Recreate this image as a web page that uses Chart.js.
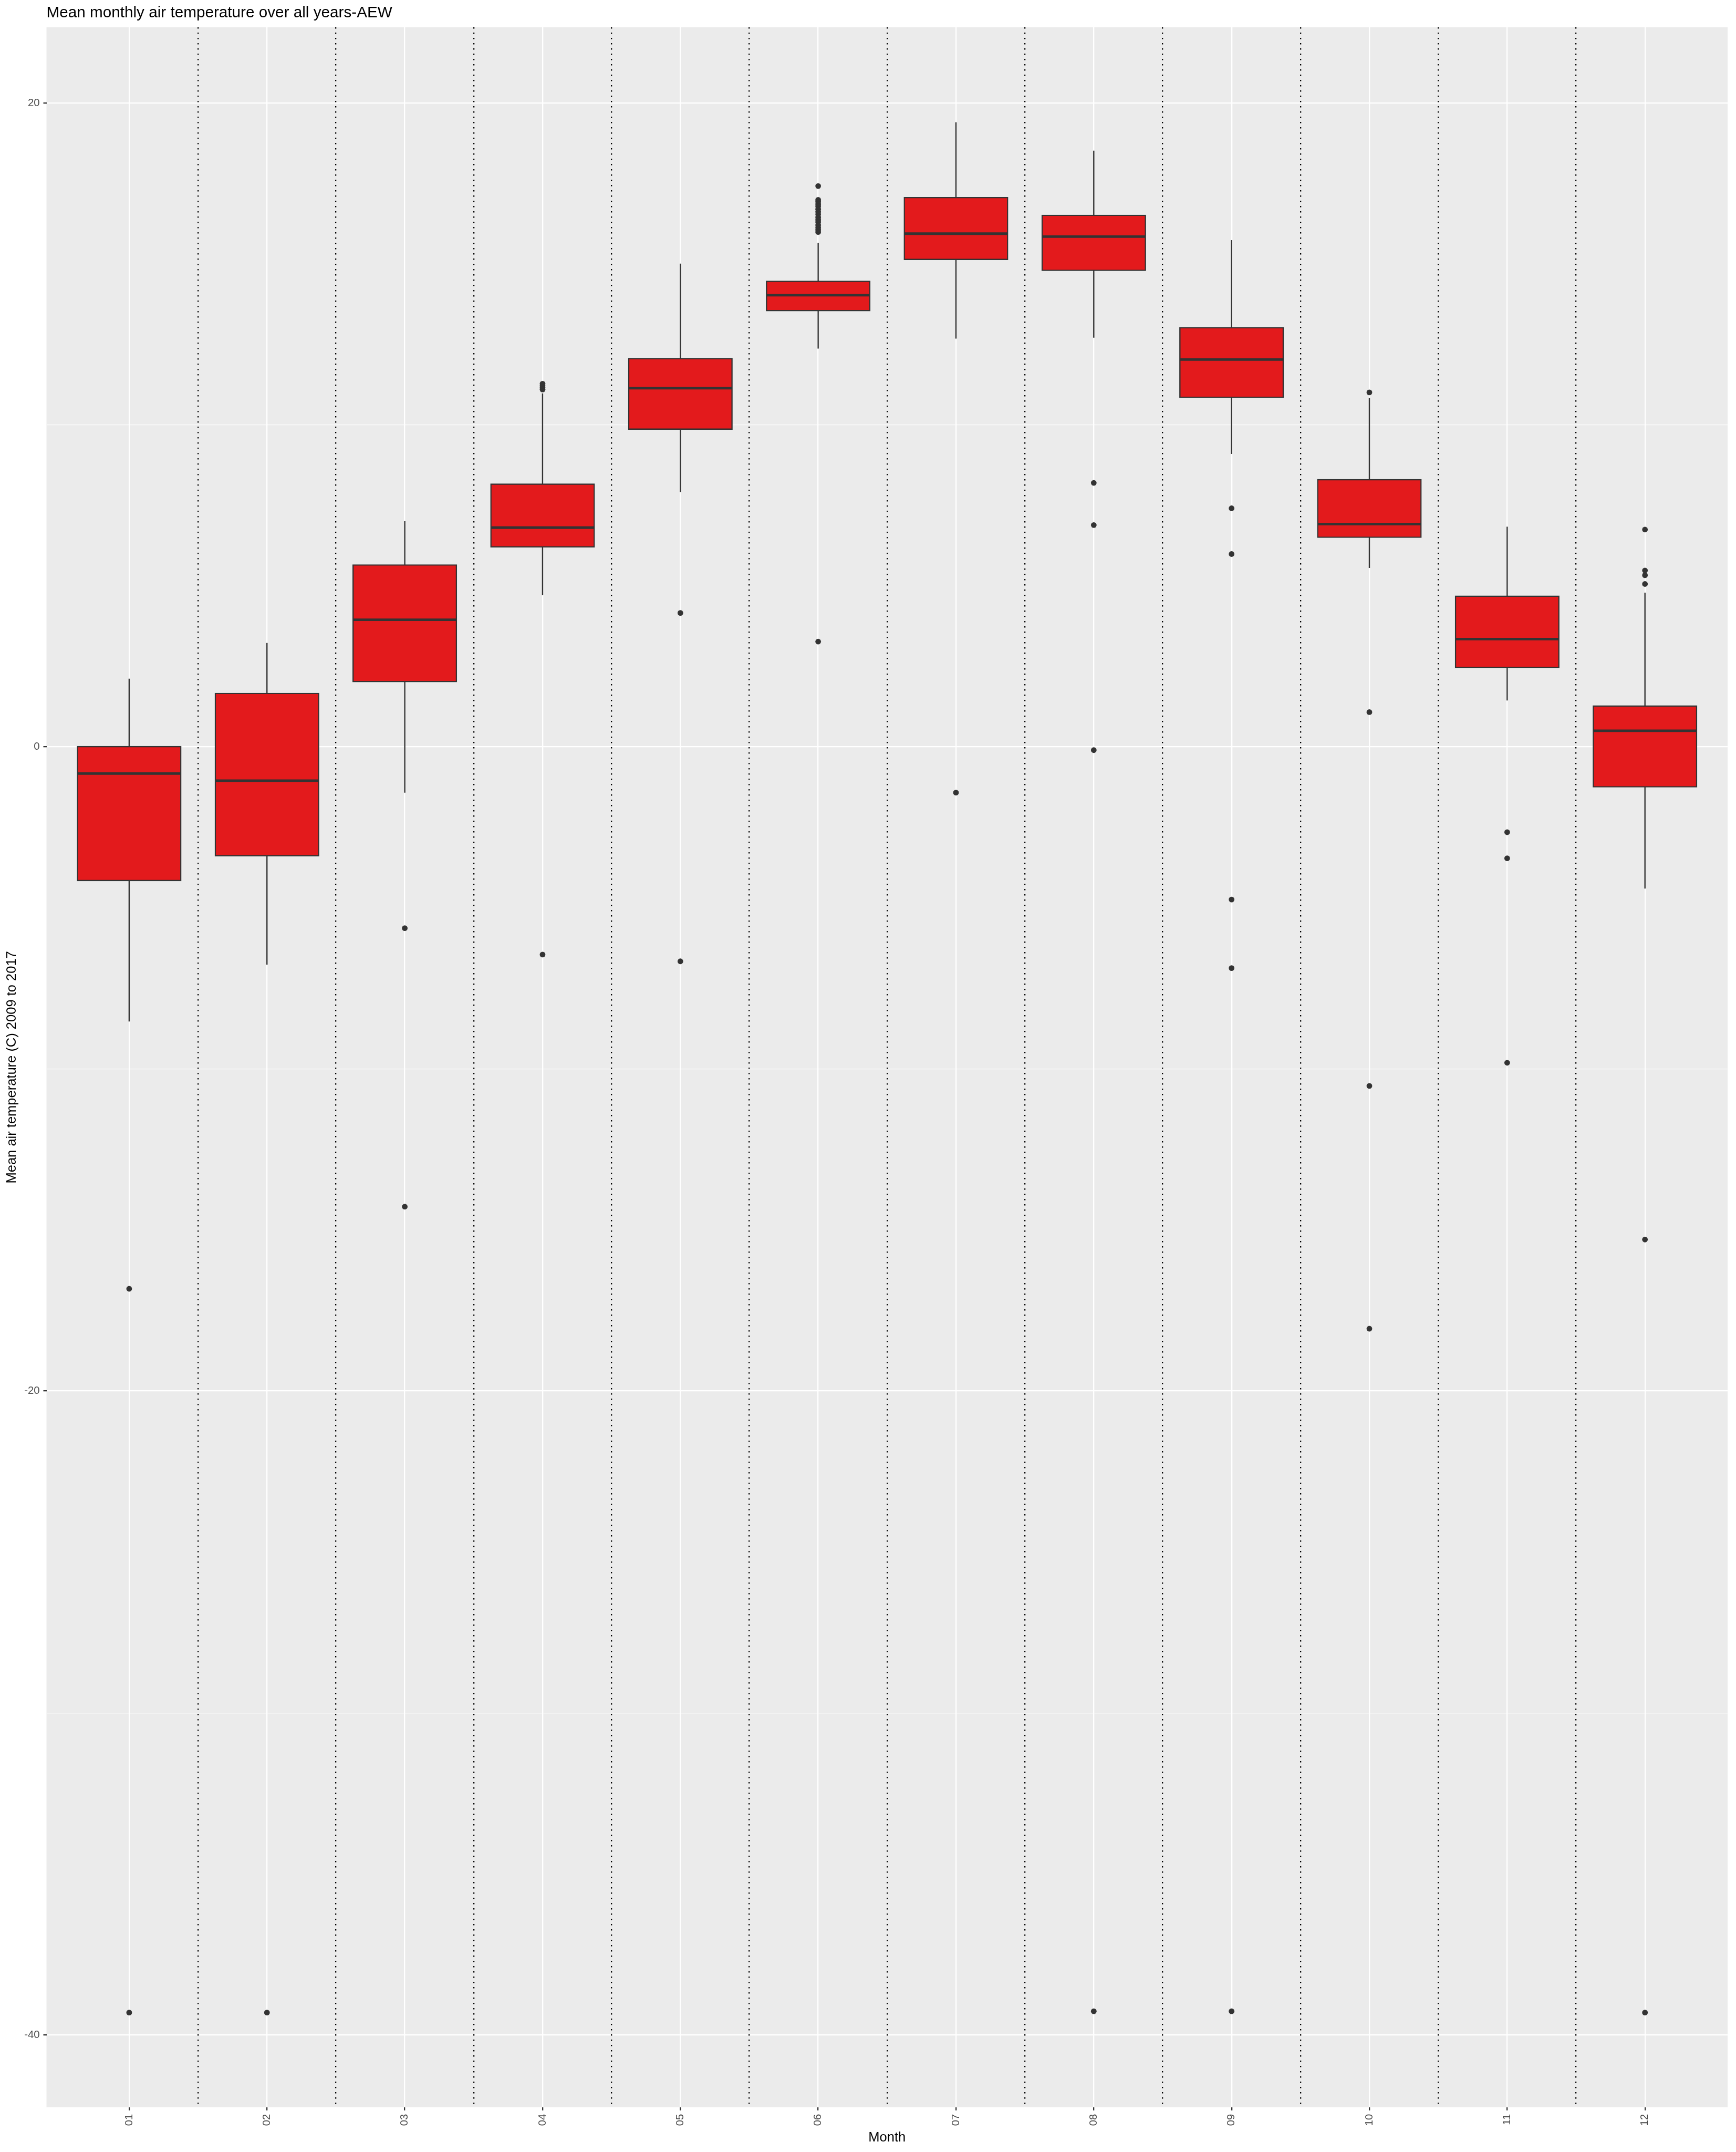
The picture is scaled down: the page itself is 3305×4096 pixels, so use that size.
<!DOCTYPE html>
<html>
<head>
<meta charset="utf-8">
<script src="https://cdn.jsdelivr.net/npm/chart.js@4.4.1/dist/chart.umd.min.js"></script>
<style>
html, body { margin: 0; padding: 0; background: #ffffff; }
canvas { display: block; }
</style>
</head>
<body>
<canvas id="c" width="3305" height="4096"></canvas>
<script>
// ---- data ----
const months = ['01', '02', '03', '04', '05', '06', '07', '08', '09', '10', '11', '12'];
const whiskerLow  = [-8.53, -6.76, -1.42, 4.71, 7.91, 12.37, 12.68, 12.71, 9.10, 5.56, 1.44, -4.40];
const q1          = [-4.15, -3.38, 2.03, 6.21, 9.87, 13.55, 15.14, 14.80, 10.86, 6.51, 2.47, -1.24];
const median      = [-0.83, -1.05, 3.95, 6.81, 11.14, 14.03, 15.94, 15.85, 12.03, 6.92, 3.35, 0.50];
const q3          = [0.01, 1.66, 5.65, 8.16, 12.06, 14.46, 17.06, 16.51, 13.02, 8.30, 4.68, 1.27];
const whiskerHigh = [2.12, 3.23, 7.01, 10.98, 15.01, 15.66, 19.40, 18.52, 15.74, 10.84, 6.84, 4.79];
const outliers = [
  [-16.83, -39.31],
  [-39.31],
  [-5.63, -14.28],
  [11.10, 11.16, 11.22, 11.28, -6.45],
  [4.16, -6.66],
  [17.42, 16.99, 16.93, 16.86, 16.79, 16.70, 16.62, 16.54, 16.45, 16.37, 16.30, 16.21, 16.13, 16.06, 15.99, 3.27],
  [-1.42],
  [8.20, 6.89, -0.10, -39.27],
  [7.41, 5.99, -4.74, -6.87, -39.27],
  [11.01, 1.08, -10.53, -18.07],
  [-2.65, -3.46, -9.81],
  [6.75, 5.48, 5.33, 5.06, -15.30, -39.31]
];
const yTicks = [-40, -30, -20, -10, 0, 10, 20];
const titleText = 'Mean monthly air temperature over all years-AEW';
const xTitle = 'Month';
const yTitle = 'Mean air temperature (C) 2009 to 2017';

// ---- style ----
const FONT = "'Liberation Sans', Arial, Helvetica, sans-serif";
Chart.defaults.font.family = FONT;

const panelBg = {
  id: 'panelBg',
  beforeDraw(chart) {
    const { ctx, chartArea: a } = chart;
    ctx.save();
    ctx.fillStyle = '#ffffff';
    ctx.fillRect(0, 0, chart.width, chart.height);
    ctx.fillStyle = '#EBEBEB';
    ctx.fillRect(a.left, a.top, a.right - a.left, a.bottom - a.top);
    ctx.restore();
  }
};

const isMajor = (c) => c && c.tick && Math.abs(c.tick.value % 20) < 1e-9;

new Chart(document.getElementById('c'), {
  type: 'bar',
  data: {
    datasets: [
      {
        type: 'line', label: 'outliers', order: 0,
        data: outliers.flatMap((vals, i) => vals.map(v => ({ x: i + 1, y: v }))),
        showLine: false, pointStyle: 'circle', pointRadius: 5.4,
        pointBackgroundColor: '#333333', pointBorderWidth: 0, clip: false
      },
      {
        type: 'line', label: 'median', order: 1,
        data: months.map((m, i) => ({ x: i + 1, y: median[i] })),
        showLine: false, pointStyle: 'line',
        pointRadius: (c) => {
          const xs = c.chart.scales.x;
          return xs.getPixelForValue(1.375) - xs.getPixelForValue(1);
        },
        borderColor: '#333333', pointBorderColor: '#333333', pointBorderWidth: 4.8, clip: false
      },
      {
        type: 'bar', label: 'box', order: 2,
        data: months.map((m, i) => ({ x: i + 1, y: [q1[i], q3[i]] })),
        backgroundColor: '#E31A1C', borderColor: '#333333', borderWidth: 2.4,
        borderSkipped: false, inflateAmount: 1.2,
        barPercentage: 0.75, categoryPercentage: 1, grouped: false
      },
      {
        type: 'bar', label: 'whisker', order: 3,
        data: months.map((m, i) => ({ x: i + 1, y: [whiskerLow[i], whiskerHigh[i]] })),
        backgroundColor: '#333333', borderWidth: 0, inflateAmount: 0,
        barThickness: 2.4, grouped: false
      }
    ]
  },
  options: {
    responsive: false,
    devicePixelRatio: 1,
    animation: false,
    events: [],
    layout: { padding: { left: 0, top: 0, bottom: 0, right: 15.9 }, autoPadding: false },
    plugins: {
      legend: { display: false },
      tooltip: { enabled: false },
      title: {
        display: true, text: titleText, align: 'start', fullSize: false,
        color: '#000000', font: { size: 29.7, weight: 'normal' },
        padding: { top: 7, bottom: 9.3 }
      }
    },
    scales: {
      y: {
        type: 'linear', position: 'left', min: -42.25, max: 22.35, beginAtZero: false,
        afterBuildTicks: (s) => { s.ticks = yTicks.map(v => ({ value: v })); },
        ticks: {
          callback: (v) => (Math.abs(v % 20) < 1e-9 ? String(v) : ''),
          color: '#4D4D4D', font: { size: 20.4 }, padding: 6.8
        },
        grid: {
          color: '#FFFFFF',
          lineWidth: (c) => (isMajor(c) ? 2.3 : 1.15),
          tickColor: (c) => (isMajor(c) ? '#333333' : 'rgba(0,0,0,0)'),
          tickWidth: 2.3, tickLength: 6, drawTicks: true
        },
        border: { display: false },
        title: {
          display: true, text: yTitle, color: '#000000',
          font: { size: 25.5 }, padding: { top: 7.7, bottom: 0 }
        },
        afterFit: (s) => { s.width = 88.5; }
      },
      x: {
        type: 'linear', position: 'bottom', min: 0.4, max: 12.6, offset: false,
        afterBuildTicks: (s) => { s.ticks = months.map((m, i) => ({ value: i + 1 })); },
        ticks: {
          callback: (v, i) => months[i], autoSkip: false,
          minRotation: 90, maxRotation: 90, padding: 6.8,
          color: '#4D4D4D', font: { size: 20.4 }
        },
        grid: {
          offset: false,
          color: '#FFFFFF', lineWidth: 2.3,
          tickColor: '#333333', tickWidth: 2.3, tickLength: 6, drawTicks: true
        },
        border: { display: false },
        title: {
          display: true, text: xTitle, color: '#000000',
          font: { size: 25.5 }, padding: { top: 0, bottom: 11.7 }
        },
        afterFit: (s) => { s.height = 85.2; }
      },
      xSep: {
        type: 'linear', position: 'bottom', min: 0.4, max: 12.6, offset: false,
        afterBuildTicks: (s) => { s.ticks = months.slice(1).map((m, i) => ({ value: i + 1.5 })); },
        ticks: { display: false },
        grid: { offset: false, color: '#000000', lineWidth: 2.3, drawTicks: false },
        border: { display: false, dash: [2.5, 7.5] },
        afterFit: (s) => { s.height = 0; }
      }
    }
  },
  plugins: [panelBg]
});
</script>
</body>
</html>
